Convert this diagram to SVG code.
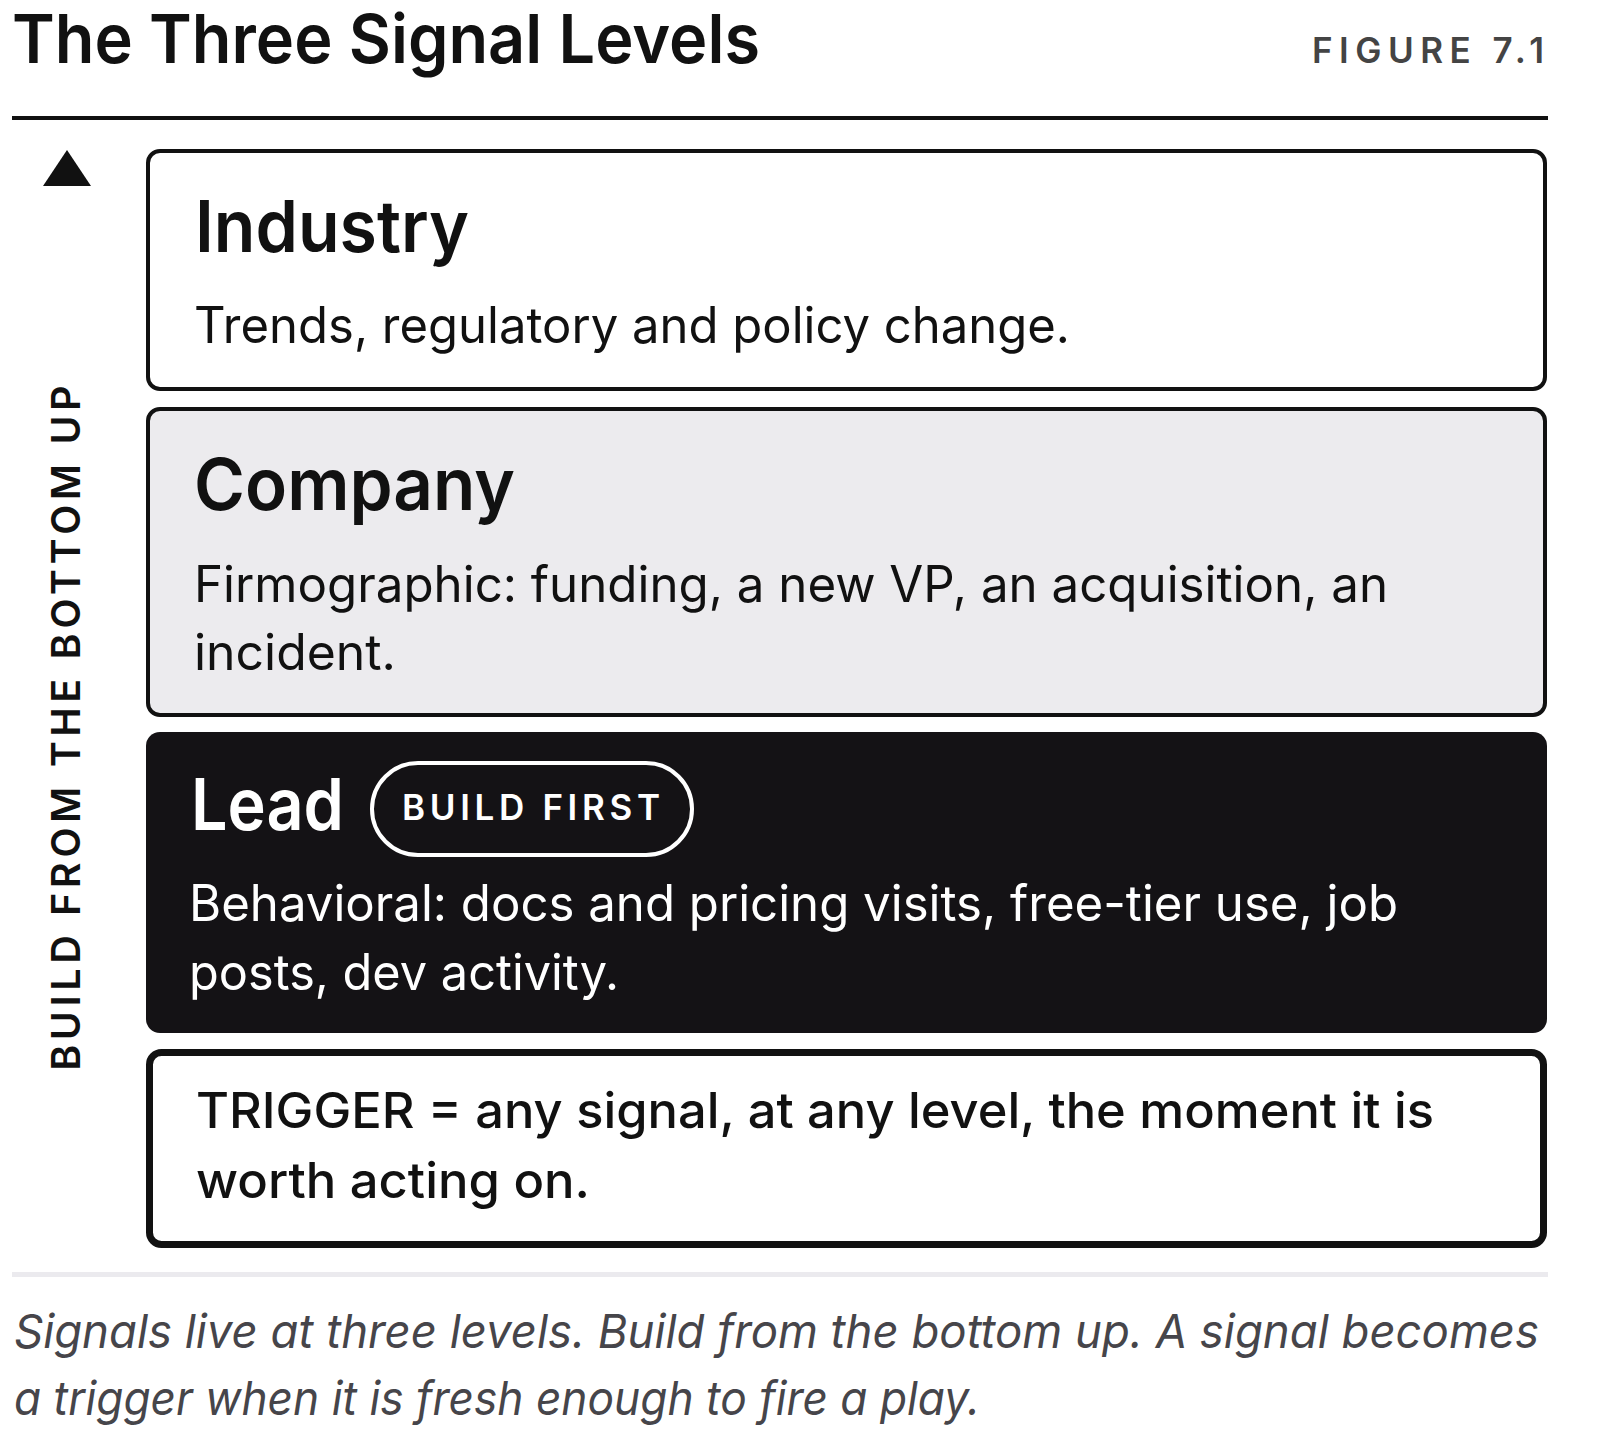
<svg xmlns="http://www.w3.org/2000/svg" width="1600" height="1436" viewBox="0 0 1600 1436">
<style>
text{font-family:Inter,"Noto Sans","Liberation Sans",sans-serif;fill:#111}
.head{font-size:72px;font-weight:600}
.body{font-size:50px;font-weight:400}
.cap{font-size:35px;font-weight:600}
.inv{fill:#fff}
.box{stroke:#111;stroke-width:4}
.cap2{font-size:47px;font-style:italic;fill:#46454a}
</style>
<rect width="1600" height="1436" fill="#fff"/>
<g id="header">
<text x="12" y="63" font-size="68" font-weight="600" textLength="748" lengthAdjust="spacingAndGlyphs">The Three Signal Levels</text>
<text x="1312" y="63" class="cap" style="fill:#444" textLength="232" lengthAdjust="spacing">FIGURE 7.1</text>
<line x1="12" y1="118" x2="1548" y2="118" stroke="#111" stroke-width="4"/>
</g>
<g id="axis">
<polygon points="43,186 91,186 67,150" fill="#111"/>
<text transform="translate(80,728) rotate(-90)" x="0" y="0" text-anchor="middle" font-size="39" font-weight="600" textLength="685" lengthAdjust="spacing">BUILD FROM THE BOTTOM UP</text>
</g>
<g id="industry">
<rect class="box" x="148" y="151" width="1397" height="238" rx="12" fill="#fff"/>
<text class="head" x="195" y="252" textLength="274" lengthAdjust="spacingAndGlyphs">Industry</text>
<text class="body" x="194" y="343" textLength="876" lengthAdjust="spacingAndGlyphs">Trends, regulatory and policy change.</text>
</g>
<g id="company">
<rect class="box" x="148" y="409" width="1397" height="306" rx="12" fill="#ECEBEE"/>
<text class="head" x="194" y="510" textLength="321" lengthAdjust="spacingAndGlyphs">Company</text>
<text class="body" x="194" y="602" textLength="1194" lengthAdjust="spacingAndGlyphs">Firmographic: funding, a new VP, an acquisition, an</text>
<text class="body" x="194" y="670" textLength="202" lengthAdjust="spacingAndGlyphs">incident.</text>
</g>
<g id="lead">
<rect x="146" y="732" width="1401" height="301" rx="14" fill="#141215"/>
<text class="head inv" x="191" y="830" textLength="153" lengthAdjust="spacingAndGlyphs">Lead</text>
<rect x="372" y="763" width="320" height="92" rx="46" fill="none" stroke="#fff" stroke-width="4"/>
<text class="cap inv" x="402" y="820" textLength="258" lengthAdjust="spacing">BUILD FIRST</text>
<text class="body inv" x="189" y="921" textLength="1209" lengthAdjust="spacingAndGlyphs">Behavioral: docs and pricing visits, free-tier use, job</text>
<text class="body inv" x="189" y="990" textLength="430" lengthAdjust="spacingAndGlyphs">posts, dev activity.</text>
</g>
<g id="trigger">
<rect x="149.5" y="1052.5" width="1394" height="192" rx="12" fill="#fff" stroke="#111" stroke-width="7"/>
<text class="body" x="196" y="1128" style="font-weight:500" textLength="1238" lengthAdjust="spacingAndGlyphs">TRIGGER = any signal, at any level, the moment it is</text>
<text class="body" x="196" y="1198" style="font-weight:500" textLength="394" lengthAdjust="spacingAndGlyphs">worth acting on.</text>
</g>
<g id="connectors"></g>
<g id="caption">
<line x1="12" y1="1274.5" x2="1548" y2="1274.5" stroke="#EBEAEE" stroke-width="5"/>
<text class="cap2" x="14" y="1348" textLength="1525" lengthAdjust="spacingAndGlyphs">Signals live at three levels. Build from the bottom up. A signal becomes</text>
<text class="cap2" x="14" y="1415" textLength="966" lengthAdjust="spacingAndGlyphs">a trigger when it is fresh enough to fire a play.</text>
</g>
</svg>
